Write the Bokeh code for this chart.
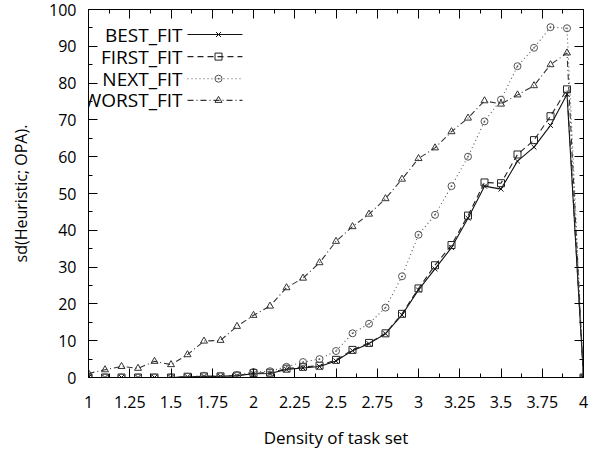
from bokeh.plotting import figure
from bokeh.models import LinearAxis, FixedTicker, Range1d
from bokeh.core.properties import value
from bokeh.embed import file_html
from bokeh.resources import INLINE

density = [1.0, 1.1, 1.2, 1.3, 1.4, 1.5, 1.6, 1.7, 1.8, 1.9, 2.0, 2.1, 2.2, 2.3, 2.4,
           2.5, 2.6, 2.7, 2.8, 2.9, 3.0, 3.1, 3.2, 3.3, 3.4, 3.5, 3.6, 3.7, 3.8, 3.9, 4.0]
best_fit = [0, 0, 0, 0, 0, 0, 0.2, 0.3, 0.3, 0.5, 1.0, 1.1, 2.2, 2.6, 3.0,
            4.5, 7.3, 9.2, 11.9, 17.0, 23.8, 29.5, 35.3, 43.3, 52.0, 51.2, 58.8, 62.6, 68.5, 77.0, 0]
first_fit = [0, 0, 0, 0, 0, 0, 0.2, 0.3, 0.3, 0.5, 1.2, 1.3, 2.4, 2.9, 3.2,
             4.8, 7.5, 9.4, 12.0, 17.3, 24.2, 30.5, 36.0, 44.0, 53.0, 52.8, 60.6, 64.5, 71.0, 78.3, 0]
next_fit = [0, 0, 0, 0, 0, 0, 0.2, 0.5, 0.4, 0.7, 1.5, 1.7, 2.9, 4.2, 5.0,
            7.2, 12.0, 14.6, 19.0, 27.5, 38.8, 44.2, 52.0, 60.0, 69.6, 75.5, 84.6, 89.6, 95.2, 94.9, 0]
worst_fit = [1.1, 2.1, 3.0, 2.5, 4.4, 3.5, 6.2, 9.9, 10.1, 13.9, 16.9, 19.4, 24.4, 27.0, 31.2,
             37.0, 41.0, 44.4, 48.6, 53.9, 59.5, 62.4, 66.8, 70.5, 75.2, 74.3, 76.8, 79.3, 85.0, 88.2, 0]

series_names = ["BEST_FIT", "FIRST_FIT", "NEXT_FIT", "WORST_FIT"]
x_tick_values = [1, 1.25, 1.5, 1.75, 2, 2.25, 2.5, 2.75, 3, 3.25, 3.5, 3.75, 4]
x_tick_labels = ["1", "1.25", "1.5", "1.75", "2", "2.25", "2.5", "2.75", "3", "3.25", "3.5", "3.75", "4"]
x_minor_values = [1.125, 1.375, 1.625, 1.875, 2.125, 2.375, 2.625, 2.875, 3.125, 3.375, 3.625, 3.875]
y_tick_values = [0, 10, 20, 30, 40, 50, 60, 70, 80, 90, 100]
y_tick_labels = ["0", "10", "20", "30", "40", "50", "60", "70", "80", "90", "100"]
y_minor_values = [5, 15, 25, 35, 45, 55, 65, 75, 85, 95]

FONT = "Open Sans"

p = figure(width=589, height=454, output_backend="svg", toolbar_location=None,
           x_range=Range1d(1, 4), y_range=Range1d(0, 100),
           min_border_left=88, min_border_right=6, min_border_top=9, min_border_bottom=77)
p.grid.visible = False
p.outline_line_color = "black"
p.outline_line_width = 1
p.background_fill_color = "white"
p.border_fill_color = "white"

def style_axis(ax, ticks, minor, labels):
    ax.ticker = FixedTicker(ticks=ticks, minor_ticks=minor)
    ax.major_tick_in = 9
    ax.major_tick_out = 0
    ax.minor_tick_in = 4
    ax.minor_tick_out = 0
    ax.major_tick_line_color = "black"
    ax.minor_tick_line_color = "black"
    ax.axis_line_color = "black"
    ax.major_label_overrides = {float(t): l for t, l in zip(ticks, labels)}
    ax.major_label_text_font = FONT
    ax.major_label_text_font_size = "16px"
    ax.major_label_text_color = "black"
    ax.axis_label_text_font = FONT
    ax.axis_label_text_font_style = "normal"
    ax.axis_label_text_color = "black"

style_axis(p.xaxis[0], x_tick_values, x_minor_values, x_tick_labels)
p.xaxis[0].major_label_standoff = 18
p.xaxis[0].axis_label = "Density of task set"
p.xaxis[0].axis_label_text_font_size = "17px"
p.xaxis[0].axis_label_standoff = 15

style_axis(p.yaxis[0], y_tick_values, y_minor_values, y_tick_labels)
p.yaxis[0].major_label_standoff = 12
p.yaxis[0].axis_label = "sd(Heuristic; OPA)."
p.yaxis[0].axis_label_text_font_size = "16px"
p.yaxis[0].axis_label_standoff = 14

# mirrored tick marks on top and right (no labels)
top_axis = LinearAxis()
style_axis(top_axis, x_tick_values, x_minor_values, [""] * len(x_tick_values))
top_axis.major_label_standoff = 0
p.add_layout(top_axis, "above")
right_axis = LinearAxis()
style_axis(right_axis, y_tick_values, y_minor_values, [""] * len(y_tick_values))
right_axis.major_label_standoff = 0
p.add_layout(right_axis, "right")

styles = [
    dict(values=best_fit, dash="solid", marker="x", color="#111111"),
    dict(values=first_fit, dash="6 4", marker="square", color="#222222"),
    dict(values=next_fit, dash="1 3", marker="circle_dot", color="#555555"),
    dict(values=worst_fit, dash="6 3 1 3", marker="triangle", color="#333333"),
]

for s in styles:
    p.line(density, s["values"], line_color=s["color"], line_width=1.1, line_dash=s["dash"])
    p.scatter(density, s["values"], marker=s["marker"], size=7, line_color=s["color"],
              fill_color=None, line_width=1)

# gnuplot-style key: right-aligned label, then sample line with marker
key_rows = [93.2, 87.2, 81.2, 75.3]
key_text_x = 1.57
key_line_x0, key_line_x1, key_mark_x = 1.60, 1.933, 1.788
for name, s, ky in zip(series_names, styles, key_rows):
    p.text(x=[key_text_x], y=[ky], text=[name], text_align="right", text_baseline="middle",
           text_font=value(FONT), text_font_size="19px", text_color="black")
    p.line([key_line_x0, key_line_x1], [ky, ky], line_color=s["color"], line_width=1.1,
           line_dash=s["dash"])
    p.scatter([key_mark_x], [ky], marker=s["marker"], size=7, line_color=s["color"],
              fill_color=None)

open("out.html", "w").write(file_html(p, INLINE))
